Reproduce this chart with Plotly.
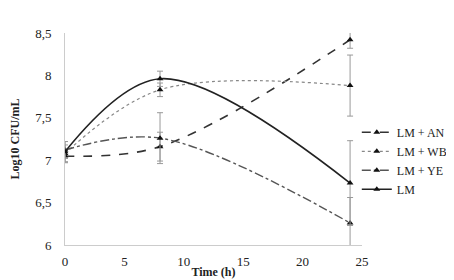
import plotly.graph_objects as go

time_h = [0, 8, 24]
lm_an = [7.05, 7.16, 8.42]
lm_an_err = [0.08, 0.17, 0.10]
lm_wb = [7.08, 7.83, 7.88]
lm_wb_err = [0.10, 0.08, 0.36]
lm_ye = [7.12, 7.26, 6.26]
lm_ye_err = [0.10, 0.30, 0.30]
lm = [7.10, 7.96, 6.73]
lm_err = [0.12, 0.09, 0.50]

series = [
    ("LM + AN", lm_an, lm_an_err, "#333333", "dash", 1.6),
    ("LM + WB", lm_wb, lm_wb_err, "#888888", "dot", 1.2),
    ("LM + YE", lm_ye, lm_ye_err, "#555555", "dashdot", 1.4),
    ("LM", lm, lm_err, "#222222", "solid", 1.6),
]

fig = go.Figure()
for name, ys, errs, col, dash, w in series:
    fig.add_trace(go.Scatter(
        x=time_h, y=ys, name=name, mode="lines+markers",
        line=dict(color=col, dash=dash, width=w, shape="spline", smoothing=1.0),
        marker=dict(symbol="triangle-up", size=6, color="#111111"),
        error_y=dict(type="data", array=errs, visible=True, color="#999999",
                     thickness=1, width=3),
    ))

fig.update_layout(
    width=454, height=280,
    margin=dict(l=57, r=0, t=25, b=43, autoexpand=False),
    paper_bgcolor="white", plot_bgcolor="white",
    separators=", ",
    font=dict(family="Liberation Serif", size=13, color="#222222"),
    showlegend=True,
    legend=dict(x=0.735, y=0.6, xanchor="left", yanchor="top",
                font=dict(family="Liberation Serif", size=12, color="#222222"),
                tracegroupgap=0, itemwidth=30, bgcolor="rgba(0,0,0,0)"),
)
fig.update_xaxes(
    domain=[0, 0.748],
    range=[0, 25], tickvals=[0, 5, 10, 15, 20, 25],
    showline=True, linecolor="#cccccc", linewidth=1,
    showgrid=False, zeroline=False, ticks="",
    ticklabelstandoff=4,
    title=dict(text="<b>Time (h)</b>", font=dict(size=12), standoff=0),
)
fig.update_yaxes(
    range=[6, 8.5], tickvals=[6, 6.5, 7, 7.5, 8, 8.5],
    showline=True, linecolor="#cccccc", linewidth=1,
    showgrid=False, zeroline=False, ticks="",
    ticklabelstandoff=10,
    title=dict(text="<b>Log10 CFU/mL</b>", font=dict(size=12), standoff=12),
)

fig.write_html("out.html")
